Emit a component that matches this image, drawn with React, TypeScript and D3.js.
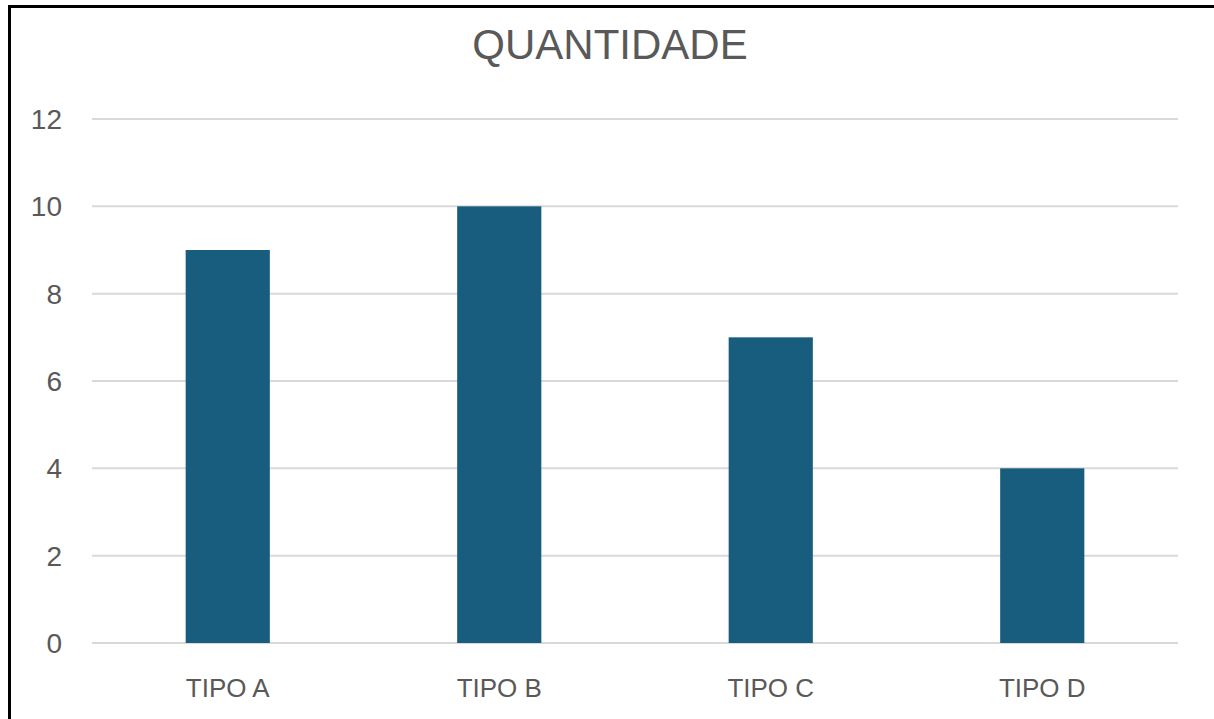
import React from 'react';
import * as d3 from 'd3';

const categories = ['TIPO A', 'TIPO B', 'TIPO C', 'TIPO D'];
const quantities = [9, 10, 7, 4];
const yTicks = [0, 2, 4, 6, 8, 10, 12];
const title = 'QUANTIDADE';

const W = 1214;
const H = 719;

export default function App() {
  const ref = React.useRef<SVGSVGElement | null>(null);

  React.useEffect(() => {
    if (!ref.current) return;
    const svg = d3.select(ref.current);
    svg.selectAll('*').remove();

    const left = 92, right = 1178, top = 119, bottom = 643;
    const x = d3.scaleBand().domain(categories).range([left, right]).paddingInner(0.69).paddingOuter(0.345);
    const y = d3.scaleLinear().domain([0, 12]).range([bottom, top]);

    // frame
    svg.append('rect')
      .attr('x', 9.5).attr('y', 6.5)
      .attr('width', W + 20).attr('height', H + 20)
      .attr('fill', 'white')
      .attr('stroke', '#000').attr('stroke-width', 3);

    svg.append('text')
      .attr('x', 610).attr('y', 59)
      .attr('text-anchor', 'middle')
      .style('font-family', 'Liberation Sans, Arial, sans-serif')
      .style('font-size', '42px')
      .attr('fill', '#595959')
      .text(title);

    const grid = svg.append('g');
    grid.selectAll('line')
      .data(yTicks)
      .enter()
      .append('line')
      .attr('x1', left).attr('x2', right)
      .attr('y1', d => y(d)).attr('y2', d => y(d))
      .attr('stroke', '#d9d9d9')
      .attr('stroke-width', 2);

    grid.selectAll('text')
      .data(yTicks)
      .enter()
      .append('text')
      .attr('x', 62)
      .attr('y', d => y(d))
      .attr('dy', '0.36em')
      .attr('text-anchor', 'end')
      .style('font-family', 'Liberation Sans, Arial, sans-serif')
      .style('font-size', '28px')
      .attr('fill', '#595959')
      .text(d => d);

    svg.append('g')
      .selectAll('rect')
      .data(quantities)
      .enter()
      .append('rect')
      .attr('x', (d, i) => x(categories[i]) as number)
      .attr('width', x.bandwidth())
      .attr('y', d => y(d))
      .attr('height', d => y(0) - y(d))
      .attr('fill', '#185d7d');

    svg.append('g')
      .selectAll('text')
      .data(categories)
      .enter()
      .append('text')
      .attr('x', d => (x(d) as number) + x.bandwidth() / 2)
      .attr('y', 697)
      .attr('text-anchor', 'middle')
      .style('font-family', 'Liberation Sans, Arial, sans-serif')
      .style('font-size', '26px')
      .attr('fill', '#595959')
      .text(d => d);
  }, []);

  return (
    <svg ref={ref} width={W} height={H} style={{ position: 'absolute', left: 0, top: 0, background: 'white' }} />
  );
}
